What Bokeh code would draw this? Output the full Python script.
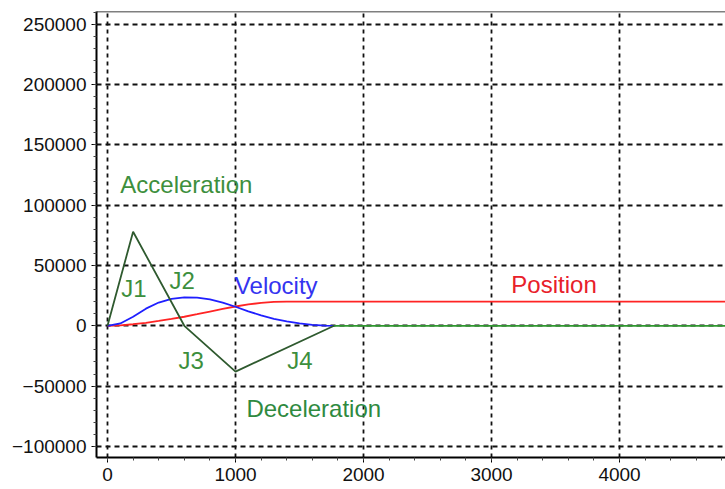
from bokeh.plotting import figure
from bokeh.models import Range1d, SingleIntervalTicker, Span, ColumnDataSource
from bokeh.core.properties import value
from bokeh.embed import file_html
from bokeh.resources import INLINE

# ---- data ----
acc_t = [0, 200, 600, 1000, 1770]
acc = [0, 78000, 0, -38000, 0]
acc_rest_t = [1770, 4830]
acc_rest = [0, 0]

vel_t = [0, 100, 200, 300, 400, 500, 600, 700, 800, 900, 1000, 1100, 1200,
         1300, 1400, 1500, 1600, 1700, 1770]
vel = [0, 1950, 7500, 14200, 19300, 22400, 23600, 23300, 21900, 19300, 15800,
       12000, 8600, 5800, 3700, 2000, 800, 150, 0]

pos_t = [0, 100, 200, 300, 400, 500, 600, 700, 800, 900, 1000, 1100, 1200,
         1300, 1400, 4830]
pos = [0, 400, 1300, 2500, 4000, 5700, 7500, 9600, 11800, 14000, 16000,
       17700, 19000, 19800, 20000, 20000]

label_text = ["Acceleration", "J1", "J2", "Velocity", "Position", "J3", "J4",
              "Deceleration"]
label_x = [100, 107, 485, 995, 3155, 555, 1405, 1085]
label_y = [117300, 31300, 37700, 33000, 34100, -28600, -28600, -68800]
label_color = ["#3d8f3d", "#3d8f3d", "#3d8f3d", "#3434f0", "#e8202a",
               "#3d8f3d", "#3d8f3d", "#2f8a3f"]

X_START, X_END = -86, 4828
Y_START, Y_END = -109200, 260600

p = figure(width=725, height=489, output_backend="svg", toolbar_location=None,
           x_range=Range1d(X_START, X_END), y_range=Range1d(Y_START, Y_END),
           min_border_left=96, min_border_right=0, min_border_top=11,
           min_border_bottom=32)
p.background_fill_color = "white"
p.border_fill_color = "white"
p.outline_line_color = None

p.xaxis.ticker = SingleIntervalTicker(interval=1000, num_minor_ticks=5)
p.yaxis.ticker = SingleIntervalTicker(interval=50000, num_minor_ticks=5)
p.xgrid.ticker = p.xaxis.ticker
p.ygrid.ticker = p.yaxis.ticker

for ax in (p.xaxis, p.yaxis):
    ax.axis_line_width = 2
    ax.axis_line_color = "black"
    ax.major_tick_in = 0
    ax.major_tick_out = 5
    ax.minor_tick_in = 0
    ax.minor_tick_out = 3
    ax.major_tick_line_color = "black"
    ax.minor_tick_line_color = "#444444"
    ax.major_label_text_font = "Liberation Sans"
    ax.major_label_text_font_size = "19px"
    ax.major_label_text_color = "#111111"
    ax.major_label_standoff = 5
p.yaxis.formatter.use_scientific = False

p.xgrid.grid_line_color = "#111111"
p.xgrid.grid_line_width = 1.8
p.xgrid.grid_line_dash = "4 4"
p.ygrid.grid_line_color = "#111111"
p.ygrid.grid_line_width = 1.8
p.ygrid.grid_line_dash = "5 4"

p.add_layout(Span(location=Y_END, dimension="width", line_color="black",
                  line_width=1.5))

p.line(pos_t, pos, line_color="#ff2424", line_width=1.8)
p.line(vel_t, vel, line_color="#1f1fff", line_width=1.8)
p.line(acc_rest_t, acc_rest, line_color="#2f962f", line_width=1.8)
p.line(acc_t, acc, line_color="#2f5a2f", line_width=1.8)

src = ColumnDataSource(dict(x=label_x, y=label_y, t=label_text, c=label_color))
p.text(x="x", y="y", text="t", source=src, text_color="c",
       text_font=value("Liberation Sans"), text_font_size="24px",
       text_align="left", text_baseline="alphabetic")

open("out.html", "w").write(file_html(p, INLINE))
